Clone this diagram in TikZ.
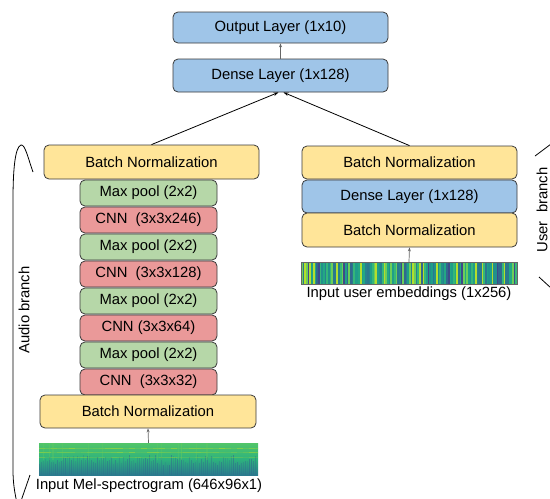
\documentclass[tikz,border=0pt]{standalone}
\usepackage{fontspec}
\setmainfont{Liberation Sans}
\usetikzlibrary{arrows.meta}

% layer fills
\definecolor{bnfill}{HTML}{FFE599}
\definecolor{densefill}{HTML}{9FC5E8}
\definecolor{poolfill}{HTML}{B6D7A8}
\definecolor{cnnfill}{HTML}{EA9999}
\definecolor{edge}{HTML}{3A3A3A}
% viridis-like stripe colours
\definecolor{vc1}{HTML}{21918C}
\definecolor{vc2}{HTML}{1F9E89}
\definecolor{vc3}{HTML}{35B779}
\definecolor{vc4}{HTML}{26828E}
\definecolor{vc5}{HTML}{31688E}
\definecolor{vc6}{HTML}{6CCE59}
\definecolor{vc7}{HTML}{B4DE2C}
\definecolor{vc8}{HTML}{3E4A89}
\definecolor{vc9}{HTML}{2A788E}
\definecolor{vc10}{HTML}{22A884}
\definecolor{spectop}{HTML}{52C569}
\definecolor{specmid}{HTML}{2DB27D}
\definecolor{specbot}{HTML}{2A7A8E}

\tikzset{
  layer/.style={draw=edge, line width=0.8pt, rounded corners=5pt,
    minimum height=33pt, inner sep=0pt,
    font=\fontsize{14.8}{16}\selectfont},
  widebox/.style={layer, minimum width=215pt},
  narrowbox/.style={layer, minimum width=137pt, minimum height=26pt},
  bn/.style={widebox, fill=bnfill},
  dense/.style={widebox, fill=densefill},
  pool/.style={narrowbox, fill=poolfill},
  cnn/.style={narrowbox, fill=cnnfill},
  feed/.style={draw=black!60, line width=0.7pt, -{Stealth[length=4pt,width=3pt]}},
  merge/.style={draw=black, line width=0.8pt, -{Stealth[length=5pt,width=3.5pt]}},
  caption/.style={font=\fontsize{14.8}{16}\selectfont, inner sep=0pt},
  brace/.style={draw=black, line width=0.8pt},
}

\begin{document}
\begin{tikzpicture}[x=1pt,y=-1pt]
\useasboundingbox (0,0) rectangle (550,499);
\fill[white] (0,0) rectangle (550,499);

% ---- head ----
\node[dense, minimum height=31pt] (out) at (280.5,27.5) {Output Layer (1x10)};
\node[dense] (dense) at (280.5,75.5) {Dense Layer (1x128)};
\draw[feed] (dense.north) -- (out.south);

% ---- audio branch ----
\node[bn, minimum height=34pt] (bnA) at (151.5,162) {Batch Normalization};
\node[pool] (p4) at (148.5,193) {Max pool (2x2)};
\node[cnn]  (c4) at (148.5,220) {CNN\ \ (3x3x246)};
\node[pool] (p3) at (148.5,247) {Max pool (2x2)};
\node[cnn]  (c3) at (148.5,274) {CNN\ \ (3x3x128)};
\node[pool] (p2) at (148.5,301) {Max pool (2x2)};
\node[cnn]  (c2) at (148.5,328) {CNN (3x3x64)};
\node[pool] (p1) at (148.5,355) {Max pool (2x2)};
\node[cnn]  (c1) at (148.5,382) {CNN\ \ (3x3x32)};
\node[bn, minimum width=216pt] (bnB) at (148,411.5) {Batch Normalization};

% mel-spectrogram input
\begin{scope}
  \clip (39,443) rectangle (258,475);
  \shade[top color=spectop, bottom color=specbot, middle color=specmid] (39,443) rectangle (258,475);
  \pgfmathsetseed{11}
  \foreach \i in {0,...,108} {
    \pgfmathsetmacro{\xx}{39+2*\i}
    \pgfmathsetmacro{\op}{0.15+0.4*rnd}
    \pgfmathsetmacro{\yt}{455+10*rnd}
    \fill[vc5, opacity=\op] (\xx,\yt) rectangle (\xx+1.2,475);
  }
  \foreach \i in {0,...,36} {
    \pgfmathsetmacro{\xx}{39+6*\i}
    \pgfmathsetmacro{\op}{0.2+0.45*rnd}
    \fill[vc7, opacity=\op] (\xx,448) rectangle (\xx+6,449.2);
    \pgfmathsetmacro{\op}{0.15+0.4*rnd}
    \fill[vc7, opacity=\op] (\xx,452) rectangle (\xx+6,453.1);
    \pgfmathsetmacro{\op}{0.1+0.35*rnd}
    \fill[vc7, opacity=\op] (\xx,456.5) rectangle (\xx+6,457.5);
  }
  \foreach \i in {0,...,14} {
    \pgfmathsetmacro{\xx}{39+220*rnd}
    \fill[vc6, opacity=0.25] (\xx,443) rectangle (\xx+0.9,460);
  }
\end{scope}
\node[inner sep=0pt, minimum width=219pt, minimum height=32pt] (spec) at (148.5,459) {};
\node[caption] (specl) at (149,486) {Input Mel-spectrogram (646x96x1)};
\draw[feed] (spec.north) -- (bnB.south);

% ---- user branch ----
\node[bn] (bnR) at (409.5,162.5) {Batch Normalization};
\node[dense] (denseR) at (409.5,196.5) {Dense Layer (1x128)};
\node[bn, minimum height=34pt] (bnU) at (409.5,230) {Batch Normalization};

% user embedding input
\pgfmathsetseed{5}
\foreach \i in {0,...,127} {
  \pgfmathrandominteger{\c}{1}{10}
  \pgfmathsetmacro{\xx}{301+1.6875*\i}
  \fill[vc\c] (\xx,262) rectangle (\xx+1.75,284);
}
\node[draw=black!60, line width=0.4pt, inner sep=0pt, minimum width=216pt, minimum height=22pt] (emb) at (409,273) {};
\node[caption] (embl) at (409,294) {Input user embeddings (1x256)};
\draw[feed] (emb.north) -- (bnU.south);

% ---- merge into the dense layer ----
\draw[merge] (bnA.north) -- ([xshift=-2pt]dense.south);
\draw[merge] (bnR.north) -- ([xshift=3pt]dense.south);

% ---- branch braces ----
\draw[brace] (33,172) .. controls (28,158) and (25,144) .. (21,145)
  .. controls (15,147) and (13,170) .. (13,200) -- (13,470)
  .. controls (13,484) and (15,494) .. (17,503);
\draw[brace] (30,475) -- (21,501);
\node[caption, rotate=90] (audiol) at (24,310) {Audio branch};

\draw[brace] (535,156) -- (551,144);
\draw[brace] (539,277) -- (551,288);
\node[caption, rotate=90] (userl) at (542,210) {User\ \ branch};
\end{tikzpicture}
\end{document}
